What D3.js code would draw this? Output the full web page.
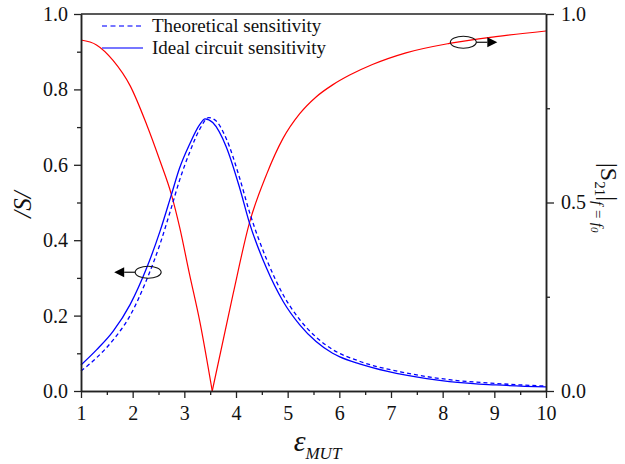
<!DOCTYPE html>
<html>
<head>
<meta charset="utf-8">
<script src="https://cdn.jsdelivr.net/npm/d3@7"></script>
<style>
  html, body { margin: 0; padding: 0; background: #fff; }
  svg text { font-family: "Liberation Serif", "Times New Roman", Tinos, "Nimbus Roman", serif; }
</style>
</head>
<body>
<svg id="chart" width="625" height="464"></svg>
<script>
// ---------- data ----------
const xTicks = [1, 2, 3, 4, 5, 6, 7, 8, 9, 10];
const yLeftTicks = [0, 0.2, 0.4, 0.6, 0.8, 1.0];
const yRightTicks = [0, 0.5, 1.0];

// |S21| at f = f0 (right axis), red
const epsRed = [1.0, 1.3, 1.62, 1.95, 2.27, 2.53, 2.75, 2.91, 3.1, 3.3, 3.54,
                3.94, 4.26, 4.59, 4.91, 5.23, 5.55, 5.87, 6.2, 6.64, 7.29, 8.13, 9.03, 10.0];
const s21 = [0.931, 0.918, 0.877, 0.81, 0.707, 0.61, 0.521, 0.434, 0.31, 0.184, 0.0,
             0.255, 0.446, 0.574, 0.67, 0.735, 0.78, 0.812, 0.838, 0.866, 0.897, 0.922, 0.94, 0.955];

// Ideal circuit sensitivity (solid blue, left axis)
const epsIdeal = [1.0, 1.3, 1.62, 1.95, 2.27, 2.53, 2.75, 2.91, 3.1, 3.3, 3.4, 3.55, 3.81,
                  4.07, 4.26, 4.59, 4.91, 5.23, 5.55, 5.87, 6.0, 6.39, 6.64, 7.29, 8.13, 9.03, 10.0];
const sensIdeal = [0.069, 0.109, 0.158, 0.229, 0.326, 0.424, 0.521, 0.592, 0.654, 0.707, 0.722, 0.712, 0.648,
                   0.539, 0.446, 0.326, 0.238, 0.176, 0.131, 0.100, 0.091, 0.072, 0.062, 0.042, 0.025, 0.016, 0.011];

// Theoretical sensitivity (dashed blue, left axis)
const epsTheo = [1.0, 1.3, 1.62, 1.95, 2.27, 2.53, 2.75, 2.91, 3.1, 3.3, 3.47, 3.6, 3.81,
                 4.07, 4.26, 4.59, 4.91, 5.23, 5.55, 5.87, 6.39, 7.29, 8.13, 9.03, 10.0];
const sensTheo = [0.053, 0.088, 0.135, 0.200, 0.295, 0.39, 0.487, 0.56, 0.632, 0.695, 0.725, 0.718, 0.67,
                  0.565, 0.475, 0.35, 0.256, 0.19, 0.143, 0.11, 0.079, 0.048, 0.030, 0.020, 0.013];

const legendLabels = ["Theoretical sensitivity", "Ideal circuit sensitivity"];
// axis-pointer markers: [epsilon, value]
const markerLeft = [2.3, 0.315];
const markerRight = [8.4, 0.925];

// ---------- layout ----------
const FONT = '"Liberation Serif", "Times New Roman", Tinos, "Nimbus Roman", serif';
const L = 81, R = 546, T = 14, B = 391;
const svg = d3.select("#chart");
const x = d3.scaleLinear().domain([1, 10]).range([L, R]);
const yL = d3.scaleLinear().domain([0, 1]).range([B, T]);
const yR = d3.scaleLinear().domain([0, 1]).range([B, T]);

const axisColor = "#222";

// ---------- curves ----------
const gCurves = svg.append("g");

// red: split at the minimum so the V stays sharp
const minIdx = s21.indexOf(d3.min(s21));
const redLine = d3.line().curve(d3.curveMonotoneX).x(d => x(d[0])).y(d => yR(d[1]));
const redPts = epsRed.map((e, i) => [e, s21[i]]);
[redPts.slice(0, minIdx + 1), redPts.slice(minIdx)].forEach(seg => {
  gCurves.append("path").attr("d", redLine(seg))
    .attr("fill", "none").attr("stroke", "#ff0000").attr("stroke-width", 1.2);
});

const blueLine = d3.line().curve(d3.curveMonotoneX).x(d => x(d[0])).y(d => yL(d[1]));
gCurves.append("path")
  .attr("d", blueLine(epsTheo.map((e, i) => [e, sensTheo[i]])))
  .attr("fill", "none").attr("stroke", "#0000ff").attr("stroke-width", 1.3)
  .attr("stroke-dasharray", "4,3");
gCurves.append("path")
  .attr("d", blueLine(epsIdeal.map((e, i) => [e, sensIdeal[i]])))
  .attr("fill", "none").attr("stroke", "#0000ff").attr("stroke-width", 1.3);

// ---------- axes ----------
function styleAxis(g) {
  g.attr("font-family", FONT).attr("font-size", 20);
  g.selectAll(".domain").attr("stroke", axisColor).attr("stroke-width", 1.5);
  g.selectAll(".tick line").attr("stroke", axisColor).attr("stroke-width", 1.3);
  g.selectAll(".tick text").attr("fill", "#111")
    .style("font-size", "20px").style("font-family", FONT);
}

// bottom
svg.append("g").attr("transform", `translate(0,${B})`)
  .call(d3.axisBottom(x).tickValues(d3.range(1.5, 10, 1)).tickSize(4).tickSizeOuter(0).tickFormat(""))
  .call(styleAxis);
svg.append("g").attr("transform", `translate(0,${B})`)
  .call(d3.axisBottom(x).tickValues(xTicks).tickSize(7).tickSizeOuter(0).tickPadding(8).tickFormat(d3.format("d")))
  .call(styleAxis);

// left
svg.append("g").attr("transform", `translate(${L},0)`)
  .call(d3.axisLeft(yL).tickValues(d3.range(0.1, 1, 0.2)).tickSize(4).tickSizeOuter(0).tickFormat(""))
  .call(styleAxis);
svg.append("g").attr("transform", `translate(${L},0)`)
  .call(d3.axisLeft(yL).tickValues(yLeftTicks).tickSize(7).tickSizeOuter(0).tickPadding(6).tickFormat(d3.format(".1f")))
  .call(styleAxis);

// right
svg.append("g").attr("transform", `translate(${R},0)`)
  .call(d3.axisRight(yR).tickValues([0.25, 0.75]).tickSize(4).tickSizeOuter(0).tickFormat(""))
  .call(styleAxis);
svg.append("g").attr("transform", `translate(${R},0)`)
  .call(d3.axisRight(yR).tickValues(yRightTicks).tickSize(8).tickSizeOuter(0).tickPadding(7).tickFormat(d3.format(".1f")))
  .call(styleAxis);

// top frame line
svg.append("line").attr("x1", L).attr("x2", R).attr("y1", T).attr("y2", T)
  .attr("stroke", axisColor).attr("stroke-width", 1.5);

// ---------- axis titles ----------
const xt = svg.append("text").attr("x", (L + R) / 2 + 4).attr("y", 451)
  .attr("text-anchor", "middle").attr("fill", "#111")
  .style("font-family", FONT).style("font-style", "italic");
xt.append("tspan").text("ε").style("font-size", "30px");
xt.append("tspan").text("MUT").style("font-size", "17px").attr("dy", 8);

svg.append("text").attr("transform", `translate(31,${(T + B) / 2 + 2}) rotate(-90)`)
  .attr("text-anchor", "middle").attr("fill", "#111")
  .style("font-family", FONT).style("font-size", "25px").style("font-style", "italic").text("/S/");

const rt = svg.append("text").attr("transform", `translate(601,163) rotate(90)`)
  .attr("text-anchor", "start").attr("fill", "#111").style("font-family", FONT);
rt.append("tspan").text("|S").style("font-size", "24px");
rt.append("tspan").text("21").style("font-size", "15px").attr("dy", 6);
rt.append("tspan").text("|").style("font-size", "24px").attr("dy", -6);
rt.append("tspan").text("f = f").style("font-size", "15px").style("font-style", "italic").attr("dy", 8);
rt.append("tspan").text("0").style("font-size", "11px").style("font-style", "italic").attr("dy", 2);

// ---------- legend ----------
const leg = svg.append("g");
const legY = [26, 48];
leg.append("line").attr("x1", 102).attr("x2", 143).attr("y1", legY[0]).attr("y2", legY[0])
  .attr("stroke", "#4a4aff").attr("stroke-width", 1.3).attr("stroke-dasharray", "5,3.5");
leg.append("line").attr("x1", 102).attr("x2", 143).attr("y1", legY[1]).attr("y2", legY[1])
  .attr("stroke", "#4a4aff").attr("stroke-width", 1.6);
legendLabels.forEach((t, i) => {
  leg.append("text").attr("x", 152).attr("y", legY[i] + 6).attr("fill", "#111")
    .style("font-family", FONT).style("font-size", "19px").text(t);
});

// ---------- markers ----------
function marker(cx, cy, dir) {
  const g = svg.append("g");
  g.append("ellipse").attr("cx", cx).attr("cy", cy).attr("rx", 13).attr("ry", 6)
    .attr("fill", "none").attr("stroke", "#111").attr("stroke-width", 1.1);
  const x0 = cx + dir * 13, x1 = cx + dir * 24, tip = cx + dir * 34;
  g.append("line").attr("x1", x0).attr("x2", x1).attr("y1", cy).attr("y2", cy)
    .attr("stroke", "#111").attr("stroke-width", 1.2);
  g.append("path").attr("d", `M${x1},${cy - 5}L${tip},${cy}L${x1},${cy + 5}Z`).attr("fill", "#000");
}
marker(x(markerLeft[0]), yL(markerLeft[1]), -1);
marker(x(markerRight[0]), yR(markerRight[1]), 1);
</script>
</body>
</html>
